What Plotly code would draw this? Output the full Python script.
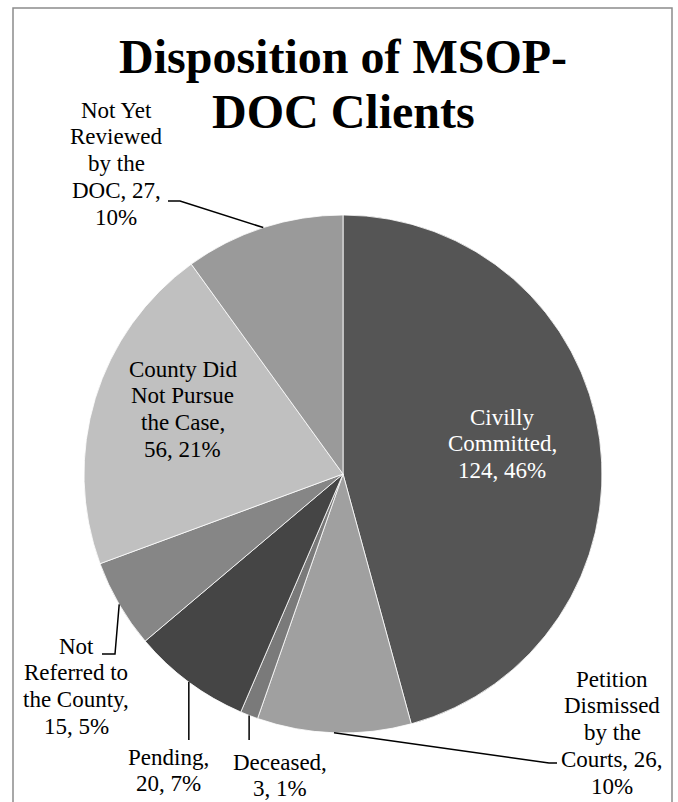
import plotly.graph_objects as go
import math

# ---- data ----
categories = ["Civilly Committed", "Petition Dismissed by the Courts", "Deceased",
              "Pending", "Not Referred to the County", "County Did Not Pursue the Case",
              "Not Yet Reviewed by the DOC"]
values = [124, 26, 3, 20, 15, 56, 27]
percents = [46, 10, 1, 7, 5, 21, 10]
colors = ["#555555", "#a0a0a0", "#7a7a7a", "#454545", "#868686", "#c0c0c0", "#9a9a9a"]

# wrapped label templates (line breaks as in the picture)
label_templates = [
    ["Civilly", "Committed,", "{v}, {p}%"],
    ["Petition", "Dismissed", "by the", "Courts, {v},", "{p}%"],
    ["Deceased,", "{v}, {p}%"],
    ["Pending,", "{v}, {p}%"],
    ["Not", "Referred to", "the County,", "{v}, {p}%"],
    ["County Did", "Not Pursue", "the Case,", "{v}, {p}%"],
    ["Not Yet", "Reviewed", "by the", "DOC, {v},", "{p}%"],
]
title_lines = ["Disposition of MSOP-", "DOC Clients"]

# ---- layout constants (pixels) ----
W, H = 678, 802
CX, CY, R = 343, 474, 259
FONT = "Liberation Serif"
FS = 23
LINE = 26.8
TFS = 48
# label center x, first baseline y, text colour
label_pos = [
    (502, 425, "white"),
    (612, 687, "black"),
    (280, 770, "black"),
    (168, 765, "black"),
    (76, 654, "black"),
    (183, 377, "black"),
    (116, 118, "black"),
]
# leader line points after the slice edge point (None = label inside)
leaders = [
    None,
    [(549, 763), (557, 763)],
    ["v", 740],
    ["v", 740],
    [(115, 654), (102, 654)],
    None,
    [(180, 201), (168, 201)],
]


def px(x, y):
    return x / W, 1 - y / H


fig = go.Figure()
fig.add_trace(go.Pie(
    labels=categories, values=values, sort=False, direction="clockwise", rotation=0,
    marker=dict(colors=colors, line=dict(color="white", width=0.8)),
    textinfo="none", hoverinfo="label+value+percent", showlegend=False,
    domain=dict(x=[(CX - R) / W, (CX + R) / W], y=[1 - (CY + R) / H, 1 - (CY - R) / H]),
))

annotations = []
shapes = []

# title (two lines)
for txt, base in zip(title_lines, [73, 128]):
    x, y = px(CX, base - 0.34 * TFS)
    annotations.append(dict(x=x, y=y, xref="paper", yref="paper", text="<b>%s</b>" % txt,
                            showarrow=False, xanchor="center", yanchor="middle",
                            font=dict(family=FONT, size=TFS, color="black")))

total = sum(values)
cum = 0
for i, v in enumerate(values):
    mid = (cum + v / 2) / total * 2 * math.pi
    cum += v
    ex = CX + R * math.sin(mid)
    ey = CY - R * math.cos(mid)
    lx, lb, col = label_pos[i]
    for k, line in enumerate(label_templates[i]):
        t = line.format(v=v, p=percents[i])
        x, y = px(lx, lb + k * LINE - 0.34 * FS)
        annotations.append(dict(x=x, y=y, xref="paper", yref="paper", text=t,
                                showarrow=False, xanchor="center", yanchor="middle",
                                font=dict(family=FONT, size=FS, color=col)))
    ld = leaders[i]
    if ld is None:
        continue
    if ld[0] == "v":
        pts = [(ex, ey), (ex, ld[1])]
    else:
        pts = [(ex, ey)] + ld
    path = ""
    for j, (a, b) in enumerate(pts):
        xa, yb = px(a, b)
        path += ("M" if j == 0 else "L") + " %f %f " % (xa, yb)
    shapes.append(dict(type="path", path=path, xref="paper", yref="paper",
                       line=dict(color="black", width=1.5)))

# outer frame
fx0, fy0 = px(13, 8)
fx1, fy1 = px(672, 820)
shapes.append(dict(type="rect", x0=fx0, y0=fy1, x1=fx1, y1=fy0, xref="paper", yref="paper",
                   line=dict(color="#8c8c8c", width=1.5), layer="below"))

fig.update_layout(
    width=W, height=H, margin=dict(l=0, r=0, t=0, b=0),
    paper_bgcolor="white", plot_bgcolor="white",
    annotations=annotations, shapes=shapes,
)

fig.write_html("out.html")
